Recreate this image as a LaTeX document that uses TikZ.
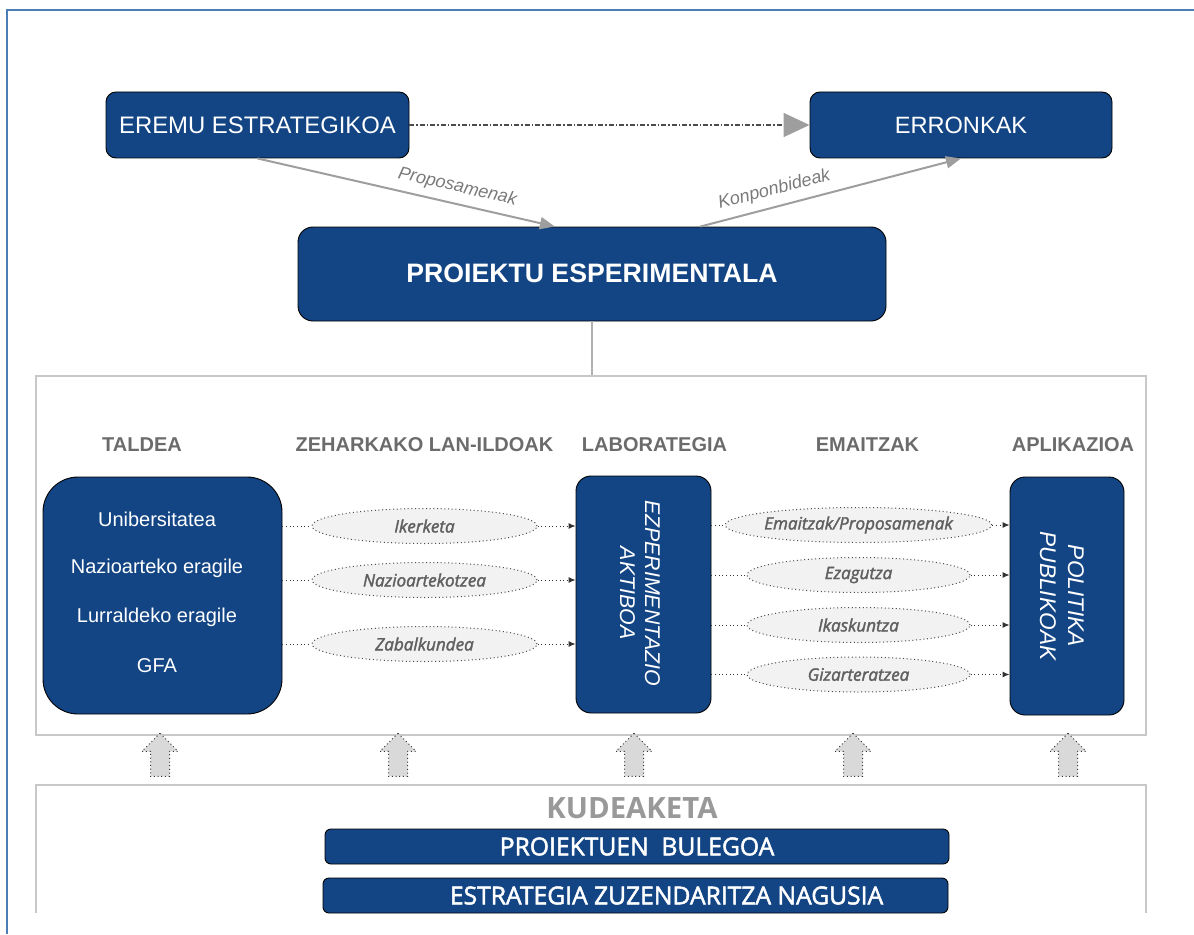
\documentclass[tikz,border=0pt]{standalone}
\usepackage{fontspec}
\setmainfont{Liberation Sans}
\newfontfamily\osans{Open Sans}
\newfontfamily\osemi[FakeBold=2]{Open Sans}
\usetikzlibrary{arrows.meta,shapes.geometric,shapes.arrows,calc}
\newdimen\pxu \pxu=0.75pt
\definecolor{navy}{HTML}{134584}
\definecolor{framec}{HTML}{4A7EB4}
\definecolor{boxgray}{HTML}{C8C8C8}
\definecolor{hdrgray}{HTML}{6B6B6B}
\definecolor{arrgray}{HTML}{9E9E9E}
\definecolor{ellfill}{HTML}{F2F2F2}
\definecolor{upfill}{HTML}{D9D9D9}
\begin{document}
\begin{tikzpicture}[x=0.75pt,y=-0.75pt,
  bluebox/.style={draw=black, line width=0.9\pxu, fill=navy, text=white, inner sep=0pt},
  hdr/.style={text=hdrgray, font=\bfseries\fontsize{15}{17}\selectfont},
  wtxt/.style={text=white, font=\fontsize{15}{18}\selectfont},
  ell/.style={ellipse, draw=black!70, dotted, line width=1\pxu, fill=ellfill, inner sep=0pt,
    minimum height=35\pxu, text=hdrgray!90!black, font=\osemi\itshape\fontsize{12.8}{15}\selectfont},
  dotl/.style={draw=black!80, dotted, line width=1\pxu},
  dotarrow/.style={dotl, -{Latex[length=5.25pt,width=4.5pt]}},
  grayarrow/.style={draw=arrgray, line width=2\pxu, -{Triangle[length=11.25pt,width=9pt]}},
  lbl/.style={text=hdrgray!90, inner sep=1pt, font=\itshape\fontsize{13.5}{16}\selectfont},
  uparrow/.style={single arrow, shape border rotate=90, draw=black!80, dotted, line width=1\pxu,
    fill=upfill, minimum height=43\pxu, minimum width=35\pxu, single arrow head extend=8.5\pxu,
    inner xsep=9\pxu, inner ysep=0pt},
  cont/.style={draw=boxgray, line width=1.5\pxu}
]
\useasboundingbox (0,0) rectangle (1194,934);

% outer frame
\draw[framec, line width=2.2\pxu] (7,934) -- (7,10) -- (1194,10);

% top boxes
\node[bluebox, rounded corners=10\pxu, minimum width=303\pxu, minimum height=66\pxu,
  font=\fontsize{17.9}{21}\selectfont] (eremu) at (257.5,125) {EREMU ESTRATEGIKOA};
\node[bluebox, rounded corners=10\pxu, minimum width=302\pxu, minimum height=66\pxu,
  font=\fontsize{17.7}{21}\selectfont] (erronk) at (961,125) {ERRONKAK};
\node[bluebox, rounded corners=15\pxu, minimum width=588\pxu, minimum height=94\pxu,
  font=\bfseries\fontsize{20}{24}\selectfont] (proj) at (592,274) {\raisebox{2\pxu}{PROIEKTU ESPERIMENTALA}};

\draw[draw=black!70, line width=1.6\pxu, dash pattern=on 5\pxu off 2\pxu on 1.5\pxu off 2\pxu,
  -{Triangle[length=19.5pt,width=18pt,color=arrgray,fill=arrgray]}] (eremu.east) -- (erronk.west);

\draw[grayarrow] (eremu.south) -- node[lbl, sloped, above=6\pxu, pos=0.66] {Proposamenak}
  ($(proj.north west)!0.437!(proj.north east)$);
\draw[grayarrow] ($(proj.north west)!0.684!(proj.north east)$) --
  node[lbl, sloped, above=6\pxu, pos=0.3] {Konponbideak} (erronk.south);

% middle container
\node[cont, minimum width=1110\pxu, minimum height=359\pxu, inner sep=0pt] (mid) at (591,555.5) {};
\draw[draw=arrgray!80, line width=1.5\pxu] (proj.south) -- (proj.south |- mid.north);

% headers
\node[hdr] (h1) at (142,445) {TALDEA};
\node[hdr] (h2) at (424.5,445) {ZEHARKAKO LAN-ILDOAK};
\node[hdr] (h3) at (654.5,445) {LABORATEGIA};
\node[hdr] (h4) at (867.5,445) {EMAITZAK};
\node[hdr] (h5) at (1073,445) {APLIKAZIOA};

% taldea
\node[bluebox, rounded corners=35\pxu, minimum width=239\pxu, minimum height=237\pxu] (taldea) at (162.5,595.5) {};
\node[wtxt] (t1) at (157,519) {Unibersitatea};
\node[wtxt] (t2) at (157,568) {Nazioarteko eragile};
\node[wtxt] (t3) at (157,617) {Lurraldeko eragile};
\node[wtxt] (t4) at (157,666) {GFA};

% laborategia
\node[bluebox, rounded corners=15\pxu, minimum width=135\pxu, minimum height=237\pxu] (lab) at (643.5,594.5) {};
\node[text=white, rotate=-90, align=center, font=\itshape\fontsize{16}{18.8}\selectfont] (labt) at (640,593) {EZPERIMENTAZIO\\AKTIBOA};

% aplikazioa
\node[bluebox, rounded corners=15\pxu, minimum width=114\pxu, minimum height=238\pxu] (apl) at (1067,596) {};
\node[text=white, rotate=-90, align=center, font=\itshape\fontsize{17}{21}\selectfont] (aplt) at (1062,596) {POLITIKA\\PUBLIKOAK};

% left ellipses
\node[ell, minimum width=225\pxu] (l1) at (424.5,526) {Ikerketa};
\node[ell, minimum width=225\pxu] (l2) at (424.5,580) {Nazioartekotzea};
\node[ell, minimum width=225\pxu] (l3) at (424.5,644) {Zabalkundea};
\foreach \n in {l1,l2,l3} {
  \draw[dotl] (taldea.east |- \n.west) -- (\n.west);
  \draw[dotarrow] (\n.east) -- (lab.west |- \n.east);
}

% right ellipses
\node[ell, minimum width=223\pxu] (r1) at (858.5,525) {Emaitzak/Proposamenak};
\node[ell, minimum width=223\pxu] (r2) at (858.5,575) {Ezagutza};
\node[ell, minimum width=223\pxu] (r3) at (858.5,625) {Ikaskuntza};
\node[ell, minimum width=223\pxu] (r4) at (858.5,674.5) {Gizarteratzea};
\foreach \n in {r1,r2,r3,r4} {
  \draw[dotl] (lab.east |- \n.west) -- (\n.west);
  \draw[dotarrow] (\n.east) -- (apl.west |- \n.east);
}

% up arrows
\node[uparrow] (u1) at (160,759.5) {};
\node[uparrow] (u2) at (398,759.5) {};
\node[uparrow] (u3) at (634,759.5) {};
\node[uparrow] (u4) at (853,759.5) {};
\node[uparrow] (u5) at (1068,759.5) {};

% bottom container
\coordinate (b1) at (36,913);
\coordinate (b2) at (36,785);
\coordinate (b3) at (1146,785);
\coordinate (b4) at (1146,913);
\draw[cont] (b1) -- (b2) -- (b3) -- (b4);

\node[text=black!40, font=\osans\bfseries\fontsize{22}{26}\selectfont] (kud) at (632,808) {KUDEAKETA};
\node[bluebox, rounded corners=6\pxu, minimum width=624\pxu, minimum height=35\pxu,
  font=\osemi\fontsize{18.5}{21}\selectfont] (bul) at (637,846.5) {PROIEKTUEN\ \ BULEGOA};
\node[bluebox, rounded corners=6\pxu, minimum width=625\pxu, minimum height=35\pxu,
  font=\osemi\fontsize{18.5}{21}\selectfont] (ezn) at (635.5,895.5) {\hspace*{62\pxu}ESTRATEGIA ZUZENDARITZA NAGUSIA};
\end{tikzpicture}
\end{document}
